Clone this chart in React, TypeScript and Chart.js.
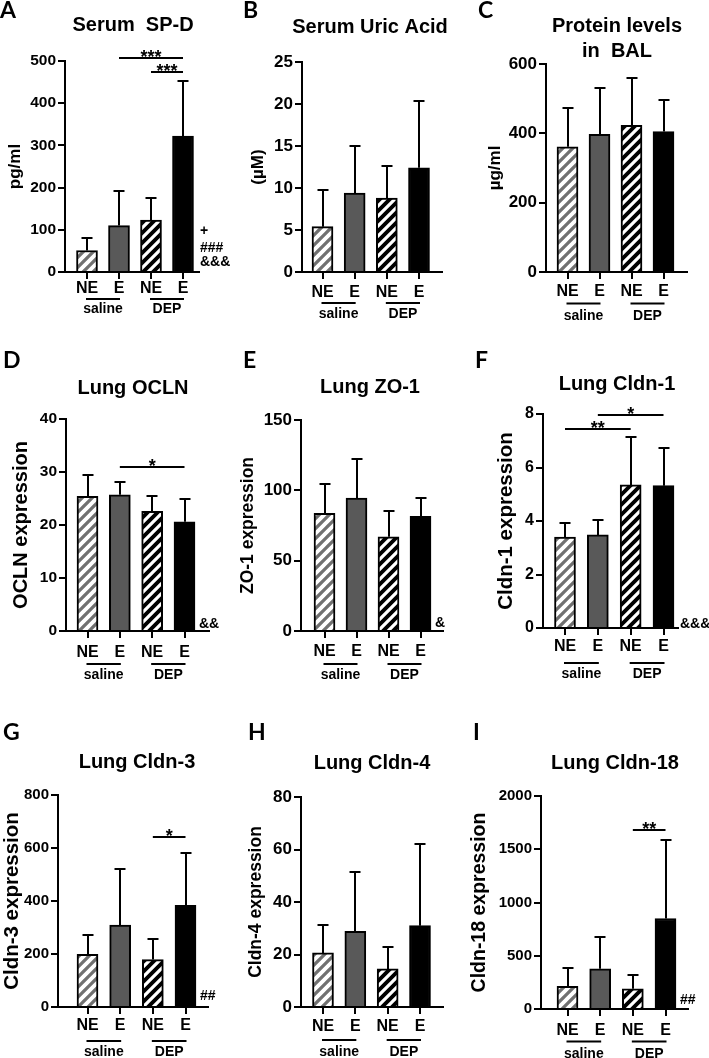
import React, { useEffect, useRef } from 'react';
import { Chart, registerables } from 'chart.js';

Chart.register(...registerables);

const FONT = "'Liberation Sans', Arial, Helvetica, sans-serif";
const LETTER_FONT = "Lato, 'Open Sans', sans-serif";

// ---- categories ----
const barLabels = ['NE', 'E', 'NE', 'E'];
const exposureLabels = ['saline', 'DEP'];

// ---- values: bar mean and top of the error bar ----
const spdMean = [51, 110, 123, 322];
const spdUpper = [81, 192, 175, 453];
const uricMean = [5.4, 9.4, 8.8, 12.4];
const uricUpper = [9.8, 15.0, 12.6, 20.4];
const balMean = [361, 397, 423, 405];
const balUpper = [472, 530, 559, 495];
const oclnMean = [25.4, 25.7, 22.6, 20.6];
const oclnUpper = [29.5, 28.2, 25.4, 24.9];
const zo1Mean = [83.6, 94.5, 67, 81.5];
const zo1Upper = [104.5, 122, 85.5, 94.3];
const cldn1Mean = [3.4, 3.48, 5.35, 5.32];
const cldn1Upper = [3.94, 4.02, 7.13, 6.72];
const cldn3Mean = [199, 309, 179, 384];
const cldn3Upper = [273, 520, 256, 582];
const cldn4Mean = [20.6, 28.8, 14.5, 31];
const cldn4Upper = [31.4, 51.4, 22.7, 62.1];
const cldn18Mean = [212, 378, 190, 850];
const cldn18Upper = [381, 678, 319, 1588];

// ---- y tick labels ----
const spdTicks = [0, 100, 200, 300, 400, 500];
const uricTicks = [0, 5, 10, 15, 20, 25];
const balTicks = [0, 200, 400, 600];
const oclnTicks = [0, 10, 20, 30, 40];
const zo1Ticks = [0, 50, 100, 150];
const cldn1Ticks = [0, 2, 4, 6, 8];
const cldn3Ticks = [0, 200, 400, 600, 800];
const cldn4Ticks = [0, 20, 40, 60, 80];
const cldn18Ticks = [0, 500, 1000, 1500, 2000];

// ---- significance brackets ----
const spdStars = [
  { from: 1, to: 3, at: 507, text: '***' },
  { from: 2, to: 3, at: 474, text: '***' },
];
const oclnStars = [{ from: 1, to: 3, at: 31, text: '*' }];
const cldn1Stars = [
  { from: 0, to: 2, at: 7.43, text: '**' },
  { from: 1, to: 3, at: 7.95, text: '*' },
];
const cldn3Stars = [{ from: 2, to: 3, at: 640, text: '*' }];
const cldn18Stars = [{ from: 2, to: 3, at: 1681, text: '**' }];

// ---- marks to the right of the last bar ----
const spdMarks = ['+', '###', '&&&'];
const oclnMarks = ['&&'];
const zo1Marks = ['&'];
const cldn1Marks = ['&&&'];
const cldn3Marks = ['##'];
const cldn18Marks = ['##'];

type Layout = {
  box: number[];
  axisX: number; axisRight: number; yTop: number; y0: number; c0: number; c3: number;
  yTitleX: number; yTitleSize: number; tickSize: number;
  labelOff: number; lineOff: number; textOff: number;
  letterX: number; letterBase: number; titleX: number; titleY: number[];
  marksX?: number; marksBase?: number[];
};

type PanelDef = {
  letter: string; title: string[]; yTitle: string;
  mean: number[]; upper: number[]; ticks: number[];
  stars: { from: number; to: number; at: number; text: string }[];
  marks: string[];
  layout: Layout;
};

const panels: PanelDef[] = [
  {
    letter: 'A', title: ['Serum  SP-D'], yTitle: 'pg/ml', mean: spdMean, upper: spdUpper, ticks: spdTicks, stars: spdStars, marks: spdMarks,
    layout: { box: [0, 0, 234, 335], axisX: 65, axisRight: 199, yTop: 61, y0: 272, c0: 87, c3: 183, yTitleX: 15.5, yTitleSize: 17, tickSize: 15.5, labelOff: 17, lineOff: 27, textOff: 37, letterX: 0, letterBase: 18, titleX: 133, titleY: [24], marksX: 200, marksBase: [235, 252, 266] },
  },
  {
    letter: 'B', title: ['Serum Uric Acid'], yTitle: '(µM)', mean: uricMean, upper: uricUpper, ticks: uricTicks, stars: [], marks: [],
    layout: { box: [234, 0, 232, 335], axisX: 302, axisRight: 442, yTop: 62, y0: 272, c0: 322.5, c3: 419, yTitleX: 258, yTitleSize: 17, tickSize: 17, labelOff: 21, lineOff: 31, textOff: 42, letterX: 243, letterBase: 18, titleX: 370, titleY: [26] },
  },
  {
    letter: 'C', title: ['Protein levels', 'in  BAL'], yTitle: 'µg/ml', mean: balMean, upper: balUpper, ticks: balTicks, stars: [], marks: [],
    layout: { box: [466, 0, 243, 335], axisX: 546, axisRight: 687, yTop: 64, y0: 272, c0: 567.5, c3: 663.5, yTitleX: 495, yTitleSize: 17, tickSize: 17, labelOff: 20, lineOff: 31.5, textOff: 44, letterX: 478, letterBase: 18, titleX: 617, titleY: [25, 50] },
  },
  {
    letter: 'D', title: ['Lung OCLN'], yTitle: 'OCLN expression', mean: oclnMean, upper: oclnUpper, ticks: oclnTicks, stars: oclnStars, marks: oclnMarks,
    layout: { box: [0, 335, 234, 365], axisX: 66, axisRight: 209, yTop: 419, y0: 631, c0: 87.5, c3: 184.5, yTitleX: 21.7, yTitleSize: 20, tickSize: 15.5, labelOff: 22, lineOff: 33, textOff: 44, letterX: 3, letterBase: 368, titleX: 133, titleY: [387], marksX: 199, marksBase: [628] },
  },
  {
    letter: 'E', title: ['Lung ZO-1'], yTitle: 'ZO-1 expression', mean: zo1Mean, upper: zo1Upper, ticks: zo1Ticks, stars: [], marks: zo1Marks,
    layout: { box: [234, 335, 232, 365], axisX: 301, axisRight: 443, yTop: 420, y0: 631, c0: 324.5, c3: 420.5, yTitleX: 248, yTitleSize: 17.5, tickSize: 17, labelOff: 21, lineOff: 33, textOff: 44, letterX: 243, letterBase: 368, titleX: 370, titleY: [386], marksX: 435, marksBase: [627] },
  },
  {
    letter: 'F', title: ['Lung Cldn-1'], yTitle: 'Cldn-1 expression', mean: cldn1Mean, upper: cldn1Upper, ticks: cldn1Ticks, stars: cldn1Stars, marks: cldn1Marks,
    layout: { box: [466, 335, 243, 365], axisX: 543, axisRight: 678, yTop: 414, y0: 628, c0: 565, c3: 663.5, yTitleX: 506, yTitleSize: 20.5, tickSize: 16, labelOff: 19, lineOff: 35, textOff: 46, letterX: 475, letterBase: 368, titleX: 617, titleY: [383], marksX: 680, marksBase: [628] },
  },
  {
    letter: 'G', title: ['Lung Cldn-3'], yTitle: 'Cldn-3 expression', mean: cldn3Mean, upper: cldn3Upper, ticks: cldn3Ticks, stars: cldn3Stars, marks: cldn3Marks,
    layout: { box: [0, 700, 234, 358], axisX: 58, axisRight: 208, yTop: 795, y0: 1007, c0: 87.5, c3: 185.5, yTitleX: 12.5, yTitleSize: 20.5, tickSize: 15, labelOff: 19, lineOff: 34, textOff: 45, letterX: 3, letterBase: 740, titleX: 137, titleY: [761], marksX: 200, marksBase: [1000] },
  },
  {
    letter: 'H', title: ['Lung Cldn-4'], yTitle: 'Cldn-4 expression', mean: cldn4Mean, upper: cldn4Upper, ticks: cldn4Ticks, stars: [], marks: [],
    layout: { box: [234, 700, 232, 358], axisX: 301, axisRight: 443, yTop: 797, y0: 1007, c0: 323, c3: 420, yTitleX: 256, yTitleSize: 17.5, tickSize: 17, labelOff: 19.5, lineOff: 33, textOff: 45, letterX: 248, letterBase: 740, titleX: 372, titleY: [762] },
  },
  {
    letter: 'I', title: ['Lung Cldn-18'], yTitle: 'Cldn-18 expression', mean: cldn18Mean, upper: cldn18Upper, ticks: cldn18Ticks, stars: cldn18Stars, marks: cldn18Marks,
    layout: { box: [466, 700, 243, 358], axisX: 541, axisRight: 688, yTop: 796, y0: 1009, c0: 567.5, c3: 665.5, yTitleX: 480, yTitleSize: 19.5, tickSize: 15, labelOff: 22, lineOff: 32.5, textOff: 45, letterX: 473, letterBase: 740, titleX: 615, titleY: [762], marksX: 680, marksBase: [1004] },
  },
];

function hatch(ctx: CanvasRenderingContext2D, bg: string, fg: string, size: number, lw: number) {
  const t = document.createElement('canvas');
  t.width = size;
  t.height = size;
  const g = t.getContext('2d')!;
  g.fillStyle = bg;
  g.fillRect(0, 0, size, size);
  g.strokeStyle = fg;
  g.lineWidth = lw;
  g.beginPath();
  g.moveTo(0, size); g.lineTo(size, 0);
  g.moveTo(-size / 2, size / 2); g.lineTo(size / 2, -size / 2);
  g.moveTo(size / 2, size * 1.5); g.lineTo(size * 1.5, size / 2);
  g.stroke();
  return ctx.createPattern(t, 'repeat') as CanvasPattern;
}

function PanelChart({ p }: { p: PanelDef }) {
  const ref = useRef<HTMLCanvasElement | null>(null);
  const L = p.layout;
  const [px, py, pw, ph] = L.box;

  useEffect(() => {
    const canvas = ref.current;
    if (!canvas) return;
    const ctx = canvas.getContext('2d')!;
    const fills = [
      hatch(ctx, '#707070', '#ffffff', 10, 3.8),
      '#595959',
      hatch(ctx, '#000000', '#ffffff', 10, 3.2),
      '#000000',
    ];
    const spacing = (L.c3 - L.c0) / 3;
    const xMin = (L.axisX - L.c0) / spacing;
    const xMax = 3 + (L.axisRight - L.c3) / spacing;
    const TICK = 7;
    const titleLH = 1.2 * L.yTitleSize;
    const padLeft = Math.max(0, L.yTitleX - px - titleLH / 2);
    const yAxisW = L.axisX - px - padLeft;
    const xAxisH = 40;
    const padTop = L.yTop - py;
    const padBottom = ph - (L.y0 - py) - xAxisH;
    const padRight = pw - (L.axisRight - px);
    const xLabelPad = L.labelOff - TICK - (1.2 * 16) / 2;
    const yMax = p.ticks[p.ticks.length - 1];

    const deco = {
      id: 'deco',
      afterDraw(chart: any) {
        const c: CanvasRenderingContext2D = chart.ctx;
        const xs = chart.scales.x;
        const ys = chart.scales.y;
        c.save();
        c.strokeStyle = '#000';
        c.fillStyle = '#000';
        c.lineWidth = 2;
        // error bars
        p.mean.forEach((m, i) => {
          const x = Math.round(xs.getPixelForValue(i));
          const yb = ys.getPixelForValue(m);
          const yt = Math.round(ys.getPixelForValue(p.upper[i]));
          c.beginPath();
          c.moveTo(x, yb);
          c.lineTo(x, yt);
          c.moveTo(x - 5.5, yt);
          c.lineTo(x + 5.5, yt);
          c.stroke();
        });
        // significance brackets
        p.stars.forEach((s) => {
          const x1 = xs.getPixelForValue(s.from);
          const x2 = xs.getPixelForValue(s.to);
          const y = Math.round(ys.getPixelForValue(s.at));
          c.beginPath();
          c.moveTo(x1, y);
          c.lineTo(x2, y);
          c.stroke();
          c.font = `bold 18px ${FONT}`;
          c.textAlign = 'center';
          c.textBaseline = 'alphabetic';
          c.fillText(s.text, (x1 + x2) / 2, y + 5);
        });
        // group lines and labels
        const gy = L.y0 - py + L.lineOff;
        const ty = L.y0 - py + L.textOff;
        c.font = `bold 14px ${FONT}`;
        c.textAlign = 'center';
        c.textBaseline = 'middle';
        exposureLabels.forEach((lab, g) => {
          const x1 = xs.getPixelForValue(g * 2) - 1;
          const x2 = xs.getPixelForValue(g * 2 + 1) + 1;
          c.beginPath();
          c.moveTo(x1, gy);
          c.lineTo(x2, gy);
          c.stroke();
          c.fillText(lab, (x1 + x2) / 2, ty);
        });
        // marks
        if (L.marksX !== undefined && L.marksBase) {
          c.font = `bold 14px ${FONT}`;
          c.textAlign = 'left';
          c.textBaseline = 'alphabetic';
          p.marks.forEach((m, i) => {
            c.fillText(m, L.marksX! - px, L.marksBase![i] - py);
          });
        }
        // panel letter
        c.font = `bold 23px ${LETTER_FONT}`;
        c.textAlign = 'left';
        c.textBaseline = 'alphabetic';
        c.fillText(p.letter, L.letterX - px, L.letterBase - py);
        // title
        c.font = `bold 20px ${FONT}`;
        c.textAlign = 'center';
        p.title.forEach((t, i) => {
          c.fillText(t, L.titleX - px, L.titleY[i] + 7 - py);
        });
        c.restore();
      },
    };

    const gridOpts = {
      display: true,
      drawOnChartArea: false,
      drawTicks: true,
      tickLength: TICK,
      tickWidth: 2,
      lineWidth: 2,
      tickColor: '#000',
      color: '#000',
      offset: false,
    };

    const chart = new Chart(ctx, {
      type: 'bar',
      data: {
        datasets: [
          {
            data: p.mean.map((v, i) => ({ x: i, y: v })),
            backgroundColor: fills as any,
            borderColor: '#000',
            borderWidth: 2,
            borderSkipped: 'start',
            barThickness: 21,
          } as any,
        ],
      },
      options: {
        responsive: false,
        animation: false,
        events: [],
        layout: { padding: { left: padLeft, top: padTop, right: padRight, bottom: padBottom } },
        plugins: { legend: { display: false }, tooltip: { enabled: false }, title: { display: false } },
        scales: {
          x: {
            type: 'linear',
            min: xMin,
            max: xMax,
            offset: false,
            afterBuildTicks: (s: any) => {
              s.ticks = barLabels.map((_, i) => ({ value: i }));
            },
            afterFit: (s: any) => {
              s.height = xAxisH;
            },
            grid: gridOpts as any,
            border: { display: true, color: '#000', width: 2 },
            ticks: {
              autoSkip: false,
              maxRotation: 0,
              minRotation: 0,
              padding: xLabelPad,
              color: '#000',
              font: { family: FONT, size: 16, weight: 'bold' },
              callback: (v: any) => barLabels[v as number] ?? '',
            },
          },
          y: {
            type: 'linear',
            min: 0,
            max: yMax,
            afterBuildTicks: (s: any) => {
              s.ticks = p.ticks.map((v) => ({ value: v }));
            },
            afterFit: (s: any) => {
              s.width = yAxisW;
            },
            grid: gridOpts as any,
            border: { display: true, color: '#000', width: 2 },
            ticks: {
              padding: 2,
              color: '#000',
              font: { family: FONT, size: L.tickSize, weight: 'bold' },
              callback: (v: any) => String(v),
            },
            title: {
              display: true,
              text: p.yTitle,
              color: '#000',
              padding: 0,
              font: { family: FONT, size: L.yTitleSize, weight: 'bold' },
            },
          },
        },
      } as any,
      plugins: [deco],
    });
    return () => chart.destroy();
  }, []);

  return (
    <canvas
      ref={ref}
      width={pw}
      height={ph}
      style={{ position: 'absolute', left: px, top: py, width: pw, height: ph }}
    />
  );
}

export default function App() {
  return (
    <div style={{ position: 'absolute', left: 0, top: 0, width: 709, height: 1058, background: '#fff', overflow: 'hidden' }}>
      {panels.map((p) => (
        <PanelChart key={p.letter} p={p} />
      ))}
    </div>
  );
}
